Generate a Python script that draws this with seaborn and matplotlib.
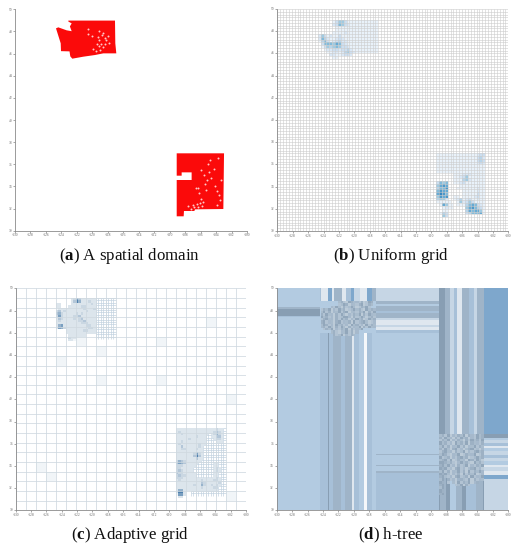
# Spatial domain and three partitionings of it (uniform, adaptive, h-tree)
import numpy as np
import matplotlib
matplotlib.use('Agg')
import matplotlib.pyplot as plt
from matplotlib.colors import ListedColormap
import seaborn as sns

# tick labels shared by all panels
lon_ticks = list(range(-130, -98, 2))
lat_ticks = list(range(50, 28, -2))
captions = [r'($\mathbf{a}$) A spatial domain', r'($\mathbf{b}$) Uniform grid',
            r'($\mathbf{c}$) Adaptive grid', r'($\mathbf{d}$) h-tree']

# (a) outlines of the two states
wa_lon = [-123.10, -117.07, -117.03, -116.90, -118.58, -119.66, -121.16, -122.59, -122.85, -122.95,
          -124.05, -124.09, -124.70, -124.40, -123.32, -122.67, -122.90, -122.67, -123.10]
wa_lat = [48.98, 48.98, 46.93, 46.02, 46.02, 45.87, 45.72, 45.54, 45.75, 46.20,
          46.22, 46.93, 48.28, 48.37, 48.10, 48.02, 48.45, 48.73, 48.89]
nm_lon = [-109.09, -102.97, -103.06, -106.72, -106.81, -108.15, -108.19, -109.09,
          -109.09, -107.16, -107.16, -108.45, -108.45, -109.09]
nm_lat = [36.99, 36.99, 31.96, 31.93, 31.78, 31.78, 31.30, 31.30,
          34.58, 34.58, 35.27, 35.27, 34.97, 34.97]
# (a) gaps where no points fall
gap_lon = [-120.6, -120.0, -119.3, -119.1, -118.7, -118.4, -118.2, -118.0, -119.4, -119.1,
           -118.9, -118.6, -118.3, -119.9, -119.5, -119.0, -118.6, -117.9, -120.5, -119.2,
           -106.0, -105.6, -105.2, -104.9, -105.4, -104.6, -106.6, -106.4, -106.2, -105.9,
           -105.7, -105.3, -107.0, -107.6, -107.3, -106.9, -106.5, -105.0, -104.3, -103.9,
           -103.6, -103.5, -103.9, -104.1, -103.4, -104.8, -105.8, -106.3, -106.1, -103.7]
gap_lat = [47.8, 47.6, 47.5, 47.2, 47.7, 47.4, 47.2, 47.6, 46.9, 46.7,
           46.9, 46.6, 46.9, 46.4, 46.2, 46.3, 47.9, 47.0, 48.2, 48.0,
           35.5, 35.0, 34.6, 35.3, 34.2, 34.8, 33.9, 33.9, 33.4, 32.9,
           32.6, 33.7, 32.3, 32.2, 32.0, 32.1, 32.4, 36.0, 35.6, 33.6,
           33.2, 32.8, 32.3, 34.0, 34.6, 36.4, 32.2, 32.1, 32.5, 36.6]

# (b) cell counts, 0-9, rows top to bottom
uni_wa_row, uni_wa_col = 4, 14
uni_wa = ['000001355311111111111', '000002365321111111111', '000000111111111111111',
          '000000111111111111111', '000001111211111111111', '253121131111111111111',
          '264211232111111111111', '146312342211111111111', '036665763211111111111',
          '013545653321111111111', '001223323342111111111', '000112212453211111111',
          '000022112332000000000', '000001100000000000000']
uni_nm_row, uni_nm_col = 52, 55
uni_nm = ['11111111111111233', '11111111111111342', '11111111111111343', '11111111111111232',
          '11111111111111111', '11111111111111111', '11111111111111111', '00000011122211111',
          '00000011235111111', '00000011145211111', '36560011231111111', '57870000111111111',
          '46680001111111211', '68770000011111211', '79860000011111311', '58780011011112311',
          '45520012412311211', '11111001523531111', '01751101114676321', '00121100005786431',
          '00110000004767751', '01430000003466671', '00530000000000000']

# (c) fine level shades, rows top to bottom
ada_wa_row, ada_wa_col = 4, 16
ada_wa = ['000000236422222200000000', '000000247522232200000000', '220000222222223200000000',
          '220002222233222200000000', '122222222223222300000000', '342322222222322200000000',
          '453222223232222200000000', '363222233422222200000000', '243222232342222200000000',
          '232222222334222200000000', '222222222233322200000000', '256222222222332200000000',
          '265322222222233200000000', '000022222223322200000000', '000022222222222200000000',
          '000002222222000000000000', '000003222222000000000000', '000002211111000000000000']
ada_nm_row, ada_nm_col = 58, 64
ada_nm = ['22222222222222223220', '23222222222222234320', '22322222222220235320',
          '22222222322200224420', '22222322222200023320', '22322222222200002220',
          '23222222232200000000', '22422222232000000000', '22332222322000000000',
          '22222222222000000000', '22222223632000000000', '22222224742000000000',
          '22222222422000000000', '35432222220000000000', '46542222200000022000',
          '33322222000000022000', '33222220000000023200', '34322220000000023200',
          '43322222000000022000', '34332222000000022000', '33322222222222223200',
          '23222222223222233200', '22222222224322222300', '22222223225322323200',
          '22222222223222233000', '25522222222222222000', '27720000000000000000',
          '16620000000000000000', '02200000000000000000']
# (c) coarse cells holding a few points: column, row, shade
pale_col = [16, 32, 76, 84, 56, 12, 8, 84, 56, 24, 32]
pale_row = [28, 24, 12, 44, 36, 76, 72, 84, 20, 20, 36]
pale_val = [1, 1, 1, 1, 1, 1, 1, 1, 1, 1, 1]

# (d) stripes, edges in degrees with the shade code between two edges
mid_lon = [-124.39, -123.31, -123.18, -122.71, -121.71, -121.15, -120.29, -119.99, -119.34,
           -118.69, -118.35, -117.74, -117.18]
mid_low = [4, 6, 4, 5, 4, 5, 1, 4, 3, 0, 4, 3]
top_lon = [-124.39, -124.22, -123.44, -122.88, -122.58, -121.58, -120.98, -120.42, -119.99,
           -119.21, -118.26, -117.70, -117.18]
top_mid = [4, 1, 7, 1, 5, 1, 4, 7, 2, 1, 7, 5]
east_lon = [-108.98, -108.77, -108.12, -107.82, -107.47, -106.82, -106.05, -105.53, -104.67,
            -104.23, -103.28, -103.15]
east_low = [6, 5, 6, 6, 3, 5, 6, 4, 4, 5, 6]
east_up_lon = [-108.98, -108.25, -107.47, -107.04, -106.61, -105.96, -105.10, -104.45,
               -104.02, -103.15]
east_up = [6, 5, 2, 4, 1, 5, 4, 2, 5]
west_lat = [50.0, 48.32, 48.10, 47.95, 47.52, 47.39, 30.0]
west_val = [3, 5, 6, 6, 4, 3]
north_lat = [50.0, 48.86, 48.65, 48.35, 48.05, 47.75, 47.30, 47.15, 46.70, 46.55, 46.25, 46.04,
             35.14, 35.05, 34.08, 33.99, 33.48, 33.39, 30.0]
north_val = [2, 5, 3, 5, 4, 5, 2, 1, 2, 1, 4, 3, 5, 3, 5, 3, 5, 4]
far_lat = [50.0, 36.94, 36.55, 36.30, 36.10, 35.80, 35.60, 35.30, 35.00, 34.70, 34.40, 34.10,
           33.90, 33.50, 33.18, 32.82, 30.0]
far_val = [7, 6, 3, 2, 4, 1, 3, 2, 4, 2, 3, 1, 2, 1, 7, 2]
# (d) small cells over the two states, '.' keeps the stripes below
tree_wa = ['.......35216534251265', '.......23651432561253', '....4263152364125362',
           '2536142635124635216354', '3625143625613425361526', '5263415263142536152643',
           '6352415236641523641352', '2563415263514263512635', '5624315624351624563124',
           '3652416352416352416253', '4526315263152436152634', '.2536142536152436',
           '....35214362514', '.....523614253']
tree_nm = ['35261425361542635', '52634152635142635', '25361425315263526', '63524163526153425',
           '36251436251436253', '52631562413562314', '25634152361425635', '36521436125346125',
           '62351425635124635', '35626125341652631', '66535214635216352', '56362415236142536',
           '65623156241356241', '36251436251625364', '65631425162536124', '56324156235162436',
           '36.5241.532615243', '65.2.3162536145', '56....236152', '36', '65', '56']

sns.set_style('white')
plt.rcParams['mathtext.fontset'] = 'custom'
plt.rcParams['mathtext.bf'] = 'Liberation Serif:bold'
plt.rcParams['font.family'] = ['Liberation Serif', 'DejaVu Sans']

W, H = 518, 550
fig = plt.figure(figsize=(W / 100, H / 100), dpi=100)


def panel(x0, x1, y0, y1):
    return fig.add_axes([x0 / W, 1 - y1 / H, (x1 - x0) / W, (y1 - y0) / H])


def finish(ax, xt, yt):
    ax.set_xticks(xt)
    ax.set_xticklabels(lon_ticks, rotation=0)
    ax.set_yticks(yt)
    ax.set_yticklabels(lat_ticks, rotation=0)
    ax.set_xlabel('')
    ax.set_ylabel('')
    ax.tick_params(labelsize=2.6, length=1.2, width=0.4, pad=0.8, colors='#666666',
                   bottom=True, left=True)
    for s in ['top', 'right']:
        ax.spines[s].set_visible(False)
    for s in ['left', 'bottom']:
        ax.spines[s].set_visible(True)
        ax.spines[s].set_color('#8a8a8a')
        ax.spines[s].set_linewidth(0.6)


def put(grid, rows, row0, col0):
    for i, row in enumerate(rows):
        for j, ch in enumerate(row):
            grid[row0 + i, col0 + j] = int(ch)


# (a)
ax = panel(15, 247, 9.3, 230.7)
ax.fill(wa_lon, wa_lat, color='#fb0a0a', lw=0)
ax.fill(nm_lon, nm_lat, color='#fb0a0a', lw=0)
sns.scatterplot(x=gap_lon, y=gap_lat, color='#ffc8c8', s=2, linewidth=0, ax=ax)
ax.set_xlim(-130, -100)
ax.set_ylim(30, 50)
finish(ax, lon_ticks, lat_ticks)

# (b)
uniform = np.zeros((80, 80))
put(uniform, uni_wa, uni_wa_row, uni_wa_col)
put(uniform, uni_nm, uni_nm_row, uni_nm_col)
ax = panel(277.3, 508.3, 9, 231)
sns.heatmap(uniform, ax=ax, cbar=False, vmin=0.01, vmax=13.5, antialiased=True,
            cmap=plt.get_cmap('Blues').with_extremes(under='white'))
ax.vlines(np.arange(0, 81), 0, 80, color='#cccccc', lw=0.4)
ax.hlines(np.arange(0, 81), 0, 80, color='#cccccc', lw=0.4)
finish(ax, np.linspace(0, 80, 16), np.linspace(0, 80, 11))

# (c)
adaptive = np.zeros((92, 92))
put(adaptive, ada_wa, ada_wa_row, ada_wa_col)
put(adaptive, ada_nm, ada_nm_row, ada_nm_col)
for c, r, v in zip(pale_col, pale_row, pale_val):
    adaptive[r:r + 4, c:c + 4] = v
ada_cmap = ListedColormap(['#ffffff', '#f1f5f8', '#dce5ec', '#cad7e2', '#b3c6d8',
                           '#97b3cc', '#7a9fc0', '#4f80ad'])
ax = panel(15.7, 246, 288.3, 510.3)
sns.heatmap(adaptive, ax=ax, cbar=False, vmin=-0.5, vmax=7.5, cmap=ada_cmap, antialiased=True)
# empty cells inside the two states keep their fine grid
for rows, r0, c0, first in [(ada_wa, ada_wa_row, ada_wa_col, 16), (ada_nm, ada_nm_row, ada_nm_col, 6)]:
    for i, row in enumerate(rows[:-1]):
        for j, ch in enumerate(row):
            if ch == '0' and j >= first:
                ax.vlines(c0 + j, r0 + i, r0 + i + 1, color='#b4c8da', lw=0.4)
                ax.hlines(r0 + i, c0 + j, c0 + j + 1, color='#b4c8da', lw=0.4)
ax.vlines(np.arange(0, 93, 4), 0, 92, color='#cfd9e0', lw=0.55)
ax.hlines(np.arange(0, 93, 4), 0, 92, color='#cfd9e0', lw=0.55)
finish(ax, np.linspace(0, 92, 16), np.linspace(0, 92, 11))

# (d)
COLS, ROWS = 300, 200
tree = np.full((ROWS, COLS), 3)


def xi(lon):
    return int(round((lon + 130) * 10))


def yi(lat):
    return int(round((50 - lat) * 10))


def vbands(edges, codes, lat_hi, lat_lo):
    for a, b, c in zip(edges[:-1], edges[1:], codes):
        tree[yi(lat_hi):yi(lat_lo), xi(a):xi(b)] = c


def hbands(edges, codes, lon_lo, lon_hi):
    for a, b, c in zip(edges[:-1], edges[1:], codes):
        tree[yi(a):yi(b), xi(lon_lo):xi(lon_hi)] = c


def cells(rows, lon_lo, lon_hi, lat_hi, lat_lo):
    cw = (lon_hi - lon_lo) / max(len(r) for r in rows)
    ch = (lat_hi - lat_lo) / len(rows)
    for i, row in enumerate(rows):
        for j, v in enumerate(row):
            if v != '.':
                tree[yi(lat_hi - i * ch):yi(lat_hi - (i + 1) * ch),
                     xi(lon_lo + j * cw):xi(lon_lo + (j + 1) * cw)] = int(v) + 7


hbands(west_lat, west_val, -130, -124.39)
vbands(mid_lon, mid_low, 46.0, 30.0)
vbands(top_lon, top_mid, 50.0, 48.9)
hbands(north_lat, north_val, -117.18, -108.98)
vbands(east_up_lon, east_up, 50.0, 36.9)
vbands(east_lon, east_low, 36.9, 30.0)
hbands(far_lat, far_val, -103.15, -100)
cells(tree_wa, -124.3, -117.18, 48.9, 45.7)
cells(tree_nm, -108.98, -103.15, 36.9, 31.4)
tree_cmap = ListedColormap(['#f4f7fa', '#dfe7ef', '#c6d6e5', '#b3cbe1', '#a7c0d8',
                            '#9fb4c8', '#889eb3', '#7ea7cc',
                            '#bccbd8', '#b2c3d3', '#a9bccd', '#a6b9cc', '#9db1c4', '#92a7bb'])
ax = panel(276.7, 508.3, 288.3, 510.3)
sns.heatmap(tree, ax=ax, cbar=False, vmin=-0.5, vmax=13.5, cmap=tree_cmap)
finish(ax, np.linspace(0, COLS, 16), np.linspace(0, ROWS, 11))

# captions
caption_x = [129.5, 390.7, 129.5, 391]
caption_y = [256, 256, 535, 535]
for cap, cx, cy in zip(captions, caption_x, caption_y):
    fig.text(cx / W, 1 - cy / H, cap, ha='center', va='center', fontsize=12.2, color='#111111')

fig.savefig('out.png', dpi=100)
